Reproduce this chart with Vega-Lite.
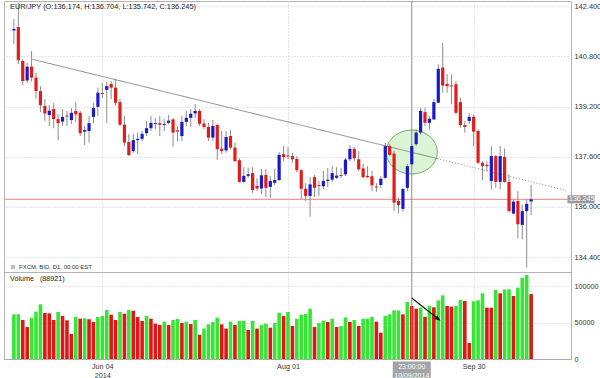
{
  "$schema": "https://vega.github.io/schema/vega-lite/v6.json",
  "padding": {"left": 2, "top": 0, "right": 0, "bottom": 0},
  "spacing": 0,
  "bounds": "flush",
  "config": {"view": {"stroke": "#b4b4b4"}, "font": "Liberation Sans"},
  "datasets": {
    "bars": [
      {"i":0,"o":141.62,"h":141.99,"l":141.19,"c":141.67,"v":61200,"vd":"u"},
      {"i":1,"o":141.73,"h":142.50,"l":140.55,"c":140.67,"v":61200,"vd":"u"},
      {"i":2,"o":140.65,"h":140.71,"l":139.88,"c":140.01,"v":53400,"vd":"d"},
      {"i":3,"o":140.03,"h":140.59,"l":139.95,"c":140.47,"v":43800,"vd":"d"},
      {"i":4,"o":140.47,"h":140.97,"l":139.99,"c":140.12,"v":56600,"vd":"u"},
      {"i":5,"o":140.12,"h":140.27,"l":139.45,"c":139.69,"v":64900,"vd":"u"},
      {"i":6,"o":139.69,"h":139.85,"l":139.02,"c":139.24,"v":74900,"vd":"u"},
      {"i":7,"o":139.22,"h":139.44,"l":138.74,"c":138.98,"v":63000,"vd":"d"},
      {"i":8,"o":138.93,"h":139.25,"l":138.58,"c":139.07,"v":62600,"vd":"d"},
      {"i":9,"o":139.12,"h":139.31,"l":138.51,"c":138.80,"v":53400,"vd":"d"},
      {"i":10,"o":138.80,"h":138.96,"l":138.13,"c":138.67,"v":64400,"vd":"u"},
      {"i":11,"o":138.72,"h":139.12,"l":138.58,"c":138.87,"v":59000,"vd":"d"},
      {"i":12,"o":138.91,"h":139.06,"l":138.58,"c":138.88,"v":53000,"vd":"d"},
      {"i":13,"o":138.77,"h":139.15,"l":138.64,"c":139.00,"v":34300,"vd":"d"},
      {"i":14,"o":139.06,"h":139.34,"l":138.71,"c":138.95,"v":57500,"vd":"u"},
      {"i":15,"o":139.00,"h":139.06,"l":138.26,"c":138.35,"v":55200,"vd":"d"},
      {"i":16,"o":138.40,"h":138.58,"l":137.97,"c":138.45,"v":55700,"vd":"u"},
      {"i":17,"o":138.42,"h":138.90,"l":138.05,"c":138.67,"v":54500,"vd":"d"},
      {"i":18,"o":138.87,"h":139.31,"l":138.67,"c":139.15,"v":50700,"vd":"d"},
      {"i":19,"o":139.19,"h":139.80,"l":138.90,"c":139.64,"v":57500,"vd":"u"},
      {"i":20,"o":139.63,"h":139.95,"l":139.47,"c":139.60,"v":59000,"vd":"u"},
      {"i":21,"o":139.73,"h":139.98,"l":138.67,"c":139.85,"v":67100,"vd":"u"},
      {"i":22,"o":139.92,"h":140.01,"l":139.44,"c":139.80,"v":60700,"vd":"d"},
      {"i":23,"o":139.80,"h":140.09,"l":139.22,"c":139.32,"v":53400,"vd":"d"},
      {"i":24,"o":139.34,"h":139.44,"l":138.58,"c":138.62,"v":64400,"vd":"u"},
      {"i":25,"o":138.62,"h":138.90,"l":137.94,"c":138.05,"v":62100,"vd":"d"},
      {"i":26,"o":138.07,"h":138.32,"l":137.62,"c":137.65,"v":67100,"vd":"u"},
      {"i":27,"o":137.78,"h":138.32,"l":137.73,"c":138.13,"v":66200,"vd":"d"},
      {"i":28,"o":138.13,"h":138.37,"l":137.69,"c":138.17,"v":57500,"vd":"d"},
      {"i":29,"o":138.17,"h":138.42,"l":138.10,"c":138.33,"v":52100,"vd":"d"},
      {"i":30,"o":138.35,"h":138.74,"l":138.26,"c":138.51,"v":59000,"vd":"u"},
      {"i":31,"o":138.51,"h":138.90,"l":138.42,"c":138.68,"v":55200,"vd":"d"},
      {"i":32,"o":138.64,"h":138.83,"l":138.48,"c":138.67,"v":48400,"vd":"d"},
      {"i":33,"o":138.67,"h":138.90,"l":138.26,"c":138.62,"v":46600,"vd":"d"},
      {"i":34,"o":138.61,"h":138.80,"l":138.42,"c":138.64,"v":51200,"vd":"u"},
      {"i":35,"o":138.68,"h":138.93,"l":138.64,"c":138.75,"v":46600,"vd":"d"},
      {"i":36,"o":138.79,"h":138.83,"l":137.92,"c":138.37,"v":53400,"vd":"u"},
      {"i":37,"o":138.44,"h":138.58,"l":138.10,"c":138.40,"v":54800,"vd":"u"},
      {"i":38,"o":138.26,"h":138.90,"l":138.10,"c":138.71,"v":49300,"vd":"d"},
      {"i":39,"o":138.71,"h":139.06,"l":138.58,"c":138.84,"v":51200,"vd":"u"},
      {"i":40,"o":138.84,"h":139.12,"l":138.55,"c":138.97,"v":47900,"vd":"d"},
      {"i":41,"o":138.98,"h":139.28,"l":138.83,"c":139.06,"v":53400,"vd":"u"},
      {"i":42,"o":139.06,"h":139.12,"l":138.58,"c":138.65,"v":33300,"vd":"d"},
      {"i":43,"o":138.66,"h":138.80,"l":138.48,"c":138.55,"v":41700,"vd":"u"},
      {"i":44,"o":138.55,"h":138.68,"l":138.10,"c":138.21,"v":47500,"vd":"u"},
      {"i":45,"o":138.21,"h":138.77,"l":138.10,"c":138.58,"v":50700,"vd":"u"},
      {"i":46,"o":138.61,"h":138.65,"l":137.50,"c":137.84,"v":56600,"vd":"u"},
      {"i":47,"o":137.86,"h":138.42,"l":137.69,"c":137.78,"v":47500,"vd":"d"},
      {"i":48,"o":137.80,"h":138.42,"l":137.73,"c":138.23,"v":41700,"vd":"d"},
      {"i":49,"o":138.26,"h":138.45,"l":137.84,"c":137.89,"v":51200,"vd":"u"},
      {"i":50,"o":137.89,"h":138.05,"l":137.44,"c":137.46,"v":46600,"vd":"d"},
      {"i":51,"o":137.49,"h":137.56,"l":136.77,"c":136.80,"v":52100,"vd":"u"},
      {"i":52,"o":136.80,"h":137.27,"l":136.77,"c":136.99,"v":52100,"vd":"u"},
      {"i":53,"o":136.99,"h":137.25,"l":136.93,"c":137.04,"v":39700,"vd":"d"},
      {"i":54,"o":137.08,"h":137.27,"l":136.45,"c":136.54,"v":52100,"vd":"u"},
      {"i":55,"o":136.67,"h":136.92,"l":136.51,"c":136.59,"v":41700,"vd":"d"},
      {"i":56,"o":136.59,"h":137.21,"l":136.41,"c":137.01,"v":46600,"vd":"u"},
      {"i":57,"o":137.02,"h":137.21,"l":136.32,"c":136.61,"v":48400,"vd":"u"},
      {"i":58,"o":136.64,"h":136.99,"l":136.29,"c":136.83,"v":42900,"vd":"d"},
      {"i":59,"o":136.77,"h":137.21,"l":136.70,"c":136.86,"v":49300,"vd":"u"},
      {"i":60,"o":136.86,"h":137.75,"l":136.83,"c":137.66,"v":63500,"vd":"u"},
      {"i":61,"o":137.68,"h":137.94,"l":137.46,"c":137.59,"v":59000,"vd":"d"},
      {"i":62,"o":137.64,"h":137.91,"l":137.53,"c":137.61,"v":64400,"vd":"u"},
      {"i":63,"o":137.62,"h":137.72,"l":137.40,"c":137.52,"v":45200,"vd":"d"},
      {"i":64,"o":137.53,"h":137.62,"l":137.11,"c":137.17,"v":55200,"vd":"u"},
      {"i":65,"o":137.17,"h":137.21,"l":136.25,"c":136.58,"v":60700,"vd":"u"},
      {"i":66,"o":136.58,"h":136.76,"l":136.19,"c":136.35,"v":61600,"vd":"u"},
      {"i":67,"o":136.35,"h":136.95,"l":135.69,"c":136.72,"v":68900,"vd":"u"},
      {"i":68,"o":136.95,"h":137.02,"l":136.32,"c":136.61,"v":43800,"vd":"d"},
      {"i":69,"o":136.70,"h":136.83,"l":136.35,"c":136.67,"v":49300,"vd":"u"},
      {"i":70,"o":136.66,"h":137.15,"l":136.57,"c":136.83,"v":52500,"vd":"u"},
      {"i":71,"o":136.83,"h":137.24,"l":136.64,"c":136.87,"v":50700,"vd":"d"},
      {"i":72,"o":136.87,"h":137.30,"l":136.80,"c":137.08,"v":55200,"vd":"u"},
      {"i":73,"o":136.93,"h":137.27,"l":136.89,"c":137.00,"v":43800,"vd":"d"},
      {"i":74,"o":137.02,"h":137.24,"l":136.92,"c":136.99,"v":45200,"vd":"u"},
      {"i":75,"o":137.04,"h":137.56,"l":136.99,"c":137.51,"v":57000,"vd":"u"},
      {"i":76,"o":137.52,"h":137.97,"l":137.46,"c":137.85,"v":50700,"vd":"d"},
      {"i":77,"o":137.85,"h":137.91,"l":137.46,"c":137.55,"v":53400,"vd":"u"},
      {"i":78,"o":137.52,"h":137.78,"l":137.15,"c":137.20,"v":45200,"vd":"d"},
      {"i":79,"o":137.23,"h":137.37,"l":136.92,"c":136.95,"v":55200,"vd":"u"},
      {"i":80,"o":136.99,"h":137.30,"l":136.92,"c":136.95,"v":55200,"vd":"u"},
      {"i":81,"o":136.98,"h":137.15,"l":136.51,"c":136.69,"v":57500,"vd":"u"},
      {"i":82,"o":136.65,"h":136.76,"l":136.48,"c":136.62,"v":51200,"vd":"d"},
      {"i":83,"o":136.70,"h":136.99,"l":136.61,"c":136.90,"v":36100,"vd":"d"},
      {"i":84,"o":136.93,"h":138.05,"l":136.90,"c":137.94,"v":59000,"vd":"u"},
      {"i":85,"o":137.94,"h":138.01,"l":137.62,"c":137.66,"v":61200,"vd":"u"},
      {"i":86,"o":137.70,"h":137.78,"l":135.87,"c":136.14,"v":66600,"vd":"u"},
      {"i":87,"o":136.19,"h":136.30,"l":135.79,"c":136.06,"v":66600,"vd":"u"},
      {"i":88,"o":135.94,"h":136.61,"l":135.85,"c":136.57,"v":61200,"vd":"d"},
      {"i":89,"o":136.61,"h":137.37,"l":136.51,"c":137.30,"v":78100,"vd":"u"},
      {"i":90,"o":137.36,"h":138.01,"l":137.30,"c":137.94,"v":72600,"vd":"d"},
      {"i":91,"o":138.00,"h":138.48,"l":137.94,"c":138.37,"v":68900,"vd":"d"},
      {"i":92,"o":138.37,"h":139.16,"l":138.31,"c":139.06,"v":70300,"vd":"u"},
      {"i":93,"o":139.02,"h":139.16,"l":138.58,"c":138.68,"v":57900,"vd":"d"},
      {"i":94,"o":138.68,"h":138.90,"l":138.47,"c":138.81,"v":72600,"vd":"u"},
      {"i":95,"o":138.79,"h":139.44,"l":138.77,"c":139.34,"v":70800,"vd":"d"},
      {"i":96,"o":139.32,"h":140.54,"l":139.31,"c":140.40,"v":80300,"vd":"u"},
      {"i":97,"o":140.44,"h":141.23,"l":139.64,"c":139.87,"v":87200,"vd":"u"},
      {"i":98,"o":139.92,"h":140.23,"l":139.64,"c":139.85,"v":72600,"vd":"d"},
      {"i":99,"o":139.87,"h":140.23,"l":139.27,"c":139.84,"v":71700,"vd":"d"},
      {"i":100,"o":139.91,"h":140.01,"l":138.95,"c":139.00,"v":72600,"vd":"u"},
      {"i":101,"o":139.34,"h":139.48,"l":138.52,"c":138.61,"v":80800,"vd":"u"},
      {"i":102,"o":138.61,"h":138.74,"l":138.37,"c":138.55,"v":79500,"vd":"d"},
      {"i":103,"o":138.74,"h":138.99,"l":138.64,"c":138.87,"v":21900,"vd":"d"},
      {"i":104,"o":138.87,"h":138.95,"l":137.94,"c":138.40,"v":79000,"vd":"u"},
      {"i":105,"o":138.42,"h":138.47,"l":137.36,"c":137.41,"v":80300,"vd":"u"},
      {"i":106,"o":137.41,"h":137.46,"l":136.85,"c":137.30,"v":90000,"vd":"u"},
      {"i":107,"o":137.34,"h":137.46,"l":137.15,"c":137.30,"v":70300,"vd":"d"},
      {"i":108,"o":136.83,"h":137.94,"l":136.56,"c":137.62,"v":70300,"vd":"d"},
      {"i":109,"o":137.62,"h":137.65,"l":136.61,"c":136.80,"v":94500,"vd":"u"},
      {"i":110,"o":136.80,"h":137.94,"l":136.56,"c":137.62,"v":90000,"vd":"d"},
      {"i":111,"o":137.59,"h":137.87,"l":136.77,"c":136.80,"v":95400,"vd":"u"},
      {"i":112,"o":136.80,"h":137.04,"l":135.82,"c":135.87,"v":95400,"vd":"u"},
      {"i":113,"o":135.79,"h":136.24,"l":135.77,"c":136.17,"v":86300,"vd":"d"},
      {"i":114,"o":136.19,"h":136.51,"l":135.00,"c":135.45,"v":97700,"vd":"u"},
      {"i":115,"o":135.43,"h":136.08,"l":134.97,"c":135.87,"v":111400,"vd":"u"},
      {"i":116,"o":135.87,"h":136.24,"l":134.07,"c":136.10,"v":115100,"vd":"u"},
      {"i":117,"o":136.174,"h":136.704,"l":135.742,"c":136.245,"v":88921,"vd":"d"}
    ],
    "trend": [
      {"i":4,"p":140.71,"i2":95.8,"p2":137.54,"s":"solid"},
      {"i":95.8,"p":137.54,"i2":124.89,"p2":136.53,"s":"dot"}
    ],
    "zone": [{"i":90,"p":137.75}],
    "last": [{"p":136.245,"t":"136.245"}],
    "cross": [{"i":90,"t":"23:00:00\n10/09/2014"}],
    "head": [{"t":"EUR/JPY (O:136.174, H:136.704, L:135.742, C:136.245)"}],
    "feed": [{"t":"FXCM, BID, D1, 00:00 EST"}],
    "vol": [{"t":"Volume\u00a0\u00a0\u00a0(88921)"}],
    "arrow": [{"i":90,"v":83600,"i2":96,"v2":54800}]
  },
  "vconcat": [
    {
      "width": 567,
      "height": 271,
      "layer": [
        {
          "data": {"name": "zone"},
          "mark": {"type": "point", "shape": "M -1 0 A 1 0.86 0 1 0 1 0 A 1 0.86 0 1 0 -1 0 Z", "size": 2601, "filled": true, "fill": "#d7f4cf", "fillOpacity": 0.9, "stroke": "#76a676", "strokeWidth": 1, "opacity": 1},
          "encoding": {
            "x": {"field": "i", "type": "quantitative", "scale": {"domain": [-1.111, 124.89]}, "title": null,
                  "axis": {"values": [20, 62, 104], "labels": false, "ticks": false, "domain": false, "grid": true, "gridColor": "#cfcfcf", "gridDash": [1, 2]}},
            "y": {"field": "p", "type": "quantitative", "scale": {"domain": [133.93, 142.56]}, "title": null,
                  "axis": {"orient": "right", "values": [134.4, 136, 137.6, 139.2, 140.8, 142.4], "format": ".3f", "grid": true, "gridColor": "#cfcfcf", "gridDash": [1, 2], "ticks": false, "domain": false, "labelPadding": 3, "labelFontSize": 7.4, "labelColor": "#333333", "labelFont": "Liberation Sans"}}
          }
        },
        {
          "data": {"name": "last"},
          "mark": {"type": "rule", "color": "#ef9a9a", "strokeWidth": 1.2},
          "encoding": {"y": {"field": "p", "type": "quantitative", "scale": {"domain": [133.93, 142.56]}, "title": null}}
        },
        {
          "data": {"name": "trend"},
          "mark": {"type": "rule", "color": "#8a8a8a", "strokeWidth": 1},
          "encoding": {
            "x": {"field": "i", "type": "quantitative", "scale": {"domain": [-1.111, 124.89]}, "title": null},
            "x2": {"field": "i2"},
            "y": {"field": "p", "type": "quantitative", "scale": {"domain": [133.93, 142.56]}, "title": null},
            "y2": {"field": "p2"},
            "strokeDash": {"condition": {"test": "datum.s == 'dot'", "value": [1, 2]}, "value": [1, 0]}
          }
        },
        {
          "data": {"name": "cross"},
          "mark": {"type": "rule", "color": "#8c8c8c", "strokeWidth": 1},
          "encoding": {"x": {"field": "i", "type": "quantitative", "scale": {"domain": [-1.111, 124.89]}, "title": null}}
        },
        {
          "data": {"name": "bars"},
          "mark": {"type": "rule", "color": "#8c8c8c", "strokeWidth": 1},
          "encoding": {
            "x": {"field": "i", "type": "quantitative", "scale": {"domain": [-1.111, 124.89]}, "title": null},
            "y": {"field": "l", "type": "quantitative", "scale": {"domain": [133.93, 142.56]}, "title": null},
            "y2": {"field": "h"}
          }
        },
        {
          "data": {"name": "bars"},
          "mark": {"type": "bar", "width": 3.2, "orient": "vertical"},
          "encoding": {
            "x": {"field": "i", "type": "quantitative", "scale": {"domain": [-1.111, 124.89]}, "title": null},
            "y": {"field": "o", "type": "quantitative", "scale": {"domain": [133.93, 142.56]}, "title": null},
            "y2": {"field": "c"},
            "color": {"condition": {"test": "datum.c >= datum.o", "value": "#1a1acc"}, "value": "#e21b1b"}
          }
        },
        {
          "data": {"name": "last"},
          "mark": {"type": "point", "shape": "M -1 -0.3 L 1 -0.3 L 1 0.3 L -1 0.3 Z", "size": 729, "filled": true, "color": "#9a9a9a", "opacity": 1, "xOffset": 15},
          "encoding": {
            "x": {"datum": 124.89, "type": "quantitative", "scale": {"domain": [-1.111, 124.89]}, "title": null},
            "y": {"field": "p", "type": "quantitative", "scale": {"domain": [133.93, 142.56]}, "title": null}
          }
        },
        {
          "data": {"name": "last"},
          "mark": {"type": "text", "align": "left", "baseline": "middle", "dx": 3, "fontSize": 7, "color": "#ffffff", "font": "Liberation Sans"},
          "encoding": {
            "x": {"datum": 124.89, "type": "quantitative", "scale": {"domain": [-1.111, 124.89]}, "title": null},
            "y": {"field": "p", "type": "quantitative", "scale": {"domain": [133.93, 142.56]}, "title": null},
            "text": {"field": "t"}
          }
        },
        {
          "data": {"name": "head"},
          "mark": {"type": "text", "align": "left", "baseline": "top", "dx": 1, "dy": 1.5, "fontSize": 7.4, "color": "#222222", "font": "Liberation Sans"},
          "encoding": {
            "x": {"datum": -1.111, "type": "quantitative", "scale": {"domain": [-1.111, 124.89]}, "title": null},
            "y": {"datum": 142.56, "type": "quantitative", "scale": {"domain": [133.93, 142.56]}, "title": null},
            "text": {"field": "t"}
          }
        },
        {
          "data": {"name": "feed"},
          "mark": {"type": "point", "shape": "square", "size": 18, "filled": true, "color": "#bdbdbd", "opacity": 1, "xOffset": 4, "yOffset": -5},
          "encoding": {
            "x": {"datum": -1.111, "type": "quantitative", "scale": {"domain": [-1.111, 124.89]}, "title": null},
            "y": {"datum": 133.93, "type": "quantitative", "scale": {"domain": [133.93, 142.56]}, "title": null}
          }
        },
        {
          "data": {"name": "feed"},
          "mark": {"type": "text", "align": "left", "baseline": "middle", "dx": 10, "dy": -5, "fontSize": 6, "color": "#333333", "font": "Liberation Sans"},
          "encoding": {
            "x": {"datum": -1.111, "type": "quantitative", "scale": {"domain": [-1.111, 124.89]}, "title": null},
            "y": {"datum": 133.93, "type": "quantitative", "scale": {"domain": [133.93, 142.56]}, "title": null},
            "text": {"field": "t"}
          }
        }
      ]
    },
    {
      "width": 567,
      "height": 87,
      "layer": [
        {
          "data": {"name": "bars"},
          "mark": {"type": "bar", "width": 3.6, "orient": "vertical"},
          "encoding": {
            "x": {"field": "i", "type": "quantitative", "scale": {"domain": [-1.111, 124.89]}, "title": null,
                  "axis": {"values": [20, 62, 104], "labelExpr": "datum.value == 20 ? ['Jun 04', '2014'] : datum.value == 62 ? 'Aug 01' : 'Sep 30'", "labelFlush": false, "ticks": false, "domain": true, "domainColor": "#aaaaaa", "grid": true, "gridColor": "#cfcfcf", "gridDash": [1, 2], "labelPadding": 3, "labelFontSize": 7.2, "labelLineHeight": 9, "labelColor": "#333333", "labelFont": "Liberation Sans", "labelBaseline": "top"}},
            "y": {"field": "v", "type": "quantitative", "scale": {"domain": [0, 119200]}, "title": null,
                  "axis": {"orient": "right", "values": [0, 50000, 100000], "format": "d", "grid": true, "gridColor": "#cfcfcf", "gridDash": [1, 2], "ticks": false, "domain": false, "labelPadding": 3, "labelFontSize": 7.2, "labelColor": "#333333", "labelFont": "Liberation Sans"}},
            "color": {"condition": {"test": "datum.vd == 'u'", "value": "#35e635"}, "value": "#e01717"}
          }
        },
        {
          "data": {"name": "cross"},
          "mark": {"type": "rule", "color": "#8c8c8c", "strokeWidth": 1},
          "encoding": {"x": {"field": "i", "type": "quantitative", "scale": {"domain": [-1.111, 124.89]}, "title": null}}
        },
        {
          "data": {"name": "arrow"},
          "mark": {"type": "rule", "color": "#111111", "strokeWidth": 1.2},
          "encoding": {
            "x": {"field": "i", "type": "quantitative", "scale": {"domain": [-1.111, 124.89]}, "title": null},
            "x2": {"field": "i2"},
            "y": {"field": "v", "type": "quantitative", "scale": {"domain": [0, 119200]}, "title": null},
            "y2": {"field": "v2"}
          }
        },
        {
          "data": {"name": "arrow"},
          "mark": {"type": "point", "shape": "M 1 0 L -1 -0.75 L -1 0.75 Z", "size": 36, "angle": 38, "filled": true, "color": "#111111", "opacity": 1},
          "encoding": {
            "x": {"field": "i2", "type": "quantitative", "scale": {"domain": [-1.111, 124.89]}, "title": null},
            "y": {"field": "v2", "type": "quantitative", "scale": {"domain": [0, 119200]}, "title": null}
          }
        },
        {
          "data": {"name": "vol"},
          "mark": {"type": "text", "align": "left", "baseline": "top", "dx": 1, "dy": 2.5, "fontSize": 7.2, "color": "#222222", "font": "Liberation Sans"},
          "encoding": {
            "x": {"datum": -1.111, "type": "quantitative", "scale": {"domain": [-1.111, 124.89]}, "title": null},
            "y": {"datum": 119200, "type": "quantitative", "scale": {"domain": [0, 119200]}, "title": null},
            "text": {"field": "t"}
          }
        },
        {
          "data": {"name": "cross"},
          "mark": {"type": "point", "shape": "M -1 -0.45 L 1 -0.45 L 1 0.45 L -1 0.45 Z", "size": 1444, "filled": true, "color": "#a4a4a4", "opacity": 1, "yOffset": 11},
          "encoding": {
            "x": {"field": "i", "type": "quantitative", "scale": {"domain": [-1.111, 124.89]}, "title": null},
            "y": {"datum": 0, "type": "quantitative", "scale": {"domain": [0, 119200]}, "title": null}
          }
        },
        {
          "data": {"name": "cross"},
          "mark": {"type": "text", "align": "center", "baseline": "top", "dy": 4, "fontSize": 7, "lineHeight": 8.5, "lineBreak": "\n", "color": "#ffffff", "font": "Liberation Sans"},
          "encoding": {
            "x": {"field": "i", "type": "quantitative", "scale": {"domain": [-1.111, 124.89]}, "title": null},
            "y": {"datum": 0, "type": "quantitative", "scale": {"domain": [0, 119200]}, "title": null},
            "text": {"field": "t"}
          }
        }
      ]
    }
  ]
}
